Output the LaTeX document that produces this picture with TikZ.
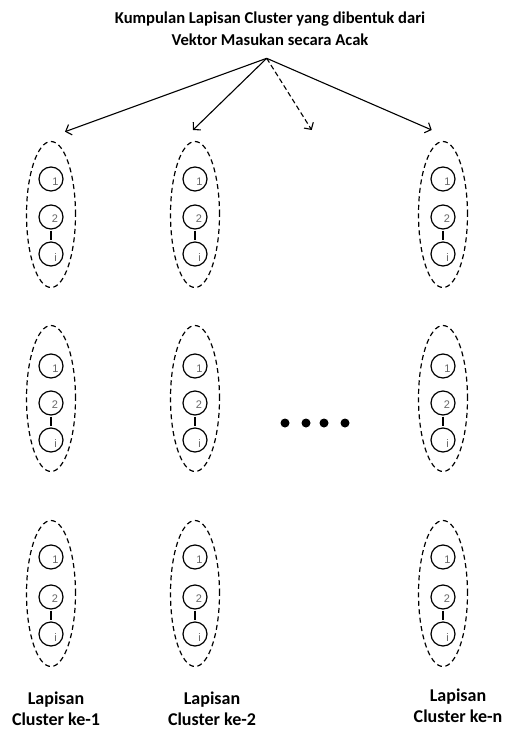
\documentclass[tikz,border=0pt]{standalone}
\usepackage{fontspec}
\setmainfont{Carlito}
\newfontfamily\arialfont{Liberation Sans}
\usetikzlibrary{arrows.meta,shapes.geometric}
\begin{document}
\begin{tikzpicture}[x=1pt,y=-1pt,
  clus/.style={draw, ellipse, dash pattern=on 5pt off 3.5pt, line width=1.2pt,
    minimum width=49pt, minimum height=146pt, inner sep=0pt},
  unit/.style={draw, circle, line width=1.2pt, minimum size=24pt, inner sep=0pt},
  ulabel/.style={font=\arialfont\fontsize{11}{11}\selectfont, text=black!60, inner sep=0pt},
  link/.style={line width=1.1pt},
  arr/.style={line width=1.1pt, -{Straight Barb[length=5pt,width=11pt]}},
  ttl/.style={font=\bfseries\fontsize{16.6}{22}\selectfont, align=center, inner sep=0pt},
  lbl/.style={font=\bfseries\fontsize{18}{21}\selectfont, align=center, inner sep=0pt},
  dot/.style={fill=black, circle, minimum size=9pt, inner sep=0pt}]
\useasboundingbox (0,0) rectangle (507,731);

% title and arrows
\node[ttl] (t) at (270,29) {Kumpulan Lapisan Cluster yang dibentuk dari\\Vektor Masukan secara Acak};
\coordinate (o) at (266.7,58.3);
\coordinate (d1) at (65,131.7);
\coordinate (d2) at (193,130);
\coordinate (d3) at (311.7,130);
\coordinate (d4) at (431.7,130);
\draw[arr] (o) -- (d1);
\draw[arr] (o) -- (d2);
\draw[arr, dash pattern=on 5pt off 3pt] (o) -- (d3);
\draw[arr] (o) -- (d4);

% clusters
\foreach \col/\x in {1/51,2/195,3/443} {
  \foreach \row/\y/\ya/\yb/\yc in {1/214.5/179/217/254, 2/398.5/366/403/440, 3/593.5/557/597/634} {
    \node[clus] (e\col\row) at (\x,\y) {};
    \node[unit] (a\col\row) at (\x,\ya) {};
    \node[unit] (b\col\row) at (\x,\yb) {};
    \node[unit] (c\col\row) at (\x,\yc) {};
    \node[ulabel] (la\col\row) at ([shift={(4.5pt,-2.5pt)}]a\col\row.center) {1};
    \node[ulabel] (lb\col\row) at ([shift={(4pt,-2pt)}]b\col\row.center) {2};
    \node[ulabel] (lc\col\row) at ([shift={(4.5pt,-3.5pt)}]c\col\row.center) {i};
    \draw[link] ([yshift=-1pt]b\col\row.south) -- ([yshift=1.5pt]c\col\row.north);
  }
}

% dots
\node[dot] (p1) at (285,423) {};
\node[dot] (p2) at (306,423) {};
\node[dot] (p3) at (324,423) {};
\node[dot] (p4) at (345,423) {};

% bottom labels
\node[lbl] (l1) at (56,709) {Lapisan\\Cluster ke-1};
\node[lbl] (l2) at (212,709) {Lapisan\\Cluster ke-2};
\node[lbl] (l3) at (458,706) {Lapisan\\Cluster ke-n};
\end{tikzpicture}
\end{document}
